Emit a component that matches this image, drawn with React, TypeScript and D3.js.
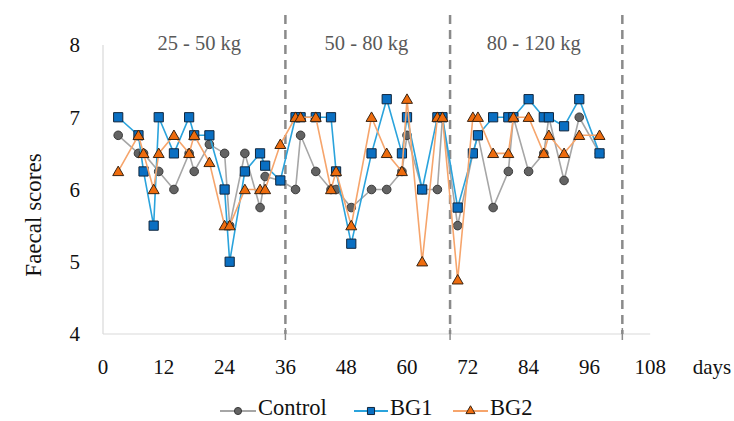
import React from "react";
import * as d3 from "d3";

const days = [3,7,8,10,11,14,17,18,21,24,25,28,31,32,35,38,39,42,45,46,49,53,56,59,60,63,66,67,70,73,74,77,80,81,84,87,88,91,94,98];
const control: (number | null)[] = [6.75,6.5,6.5,null,6.25,6.0,6.5,6.25,6.625,6.5,5.5,6.5,5.75,6.18,6.125,6.0,6.75,6.25,6.0,6.0,5.75,6.0,6.0,6.25,6.75,6.0,6.0,7.0,5.5,6.5,6.75,5.75,6.25,7.0,6.25,6.5,7.0,6.125,7.0,6.5];
const bg1: (number | null)[] = [7,6.75,6.25,5.5,7,6.5,7,6.75,6.75,6.0,5.0,6.25,6.5,6.33,6.125,7,7,7,7,6.25,5.25,6.5,7.25,6.5,7,6.0,7,7,5.75,6.5,6.75,7,7,7,7.25,7,7,6.875,7.25,6.5];
const bg2: (number | null)[] = [6.25,6.75,6.5,6.0,6.5,6.75,6.5,6.75,6.375,5.5,5.5,6.0,6.0,6.0,6.625,7,7,7,6.0,6.25,5.5,7,6.5,6.25,7.25,5.0,7,7,4.75,7,7,6.5,6.5,7,7,6.5,6.75,6.5,6.75,6.75];

const xTicks = [0,12,24,36,48,60,72,84,96,108];
const yTicks = [4,5,6,7,8];
const phaseBounds = [36, 68.5, 102.5];
const phaseLabels = ["25 - 50 kg", "50 - 80 kg", "80 - 120 kg"];
const phaseCenters = [19, 52, 85];
const seriesNames = ["Control", "BG1", "BG2"];

const FONT = "'Liberation Serif', 'Times New Roman', serif";

export default function App() {
  const x = d3.scaleLinear().domain([0, 108]).range([103, 650.2]);
  const y = d3.scaleLinear().domain([4, 8]).range([334, 45]);

  const styles = [
    { line: "#a6a6a6", fill: "#636363", stroke: "#3a3a3a", shape: d3.symbolCircle, size: 58, lsize: 40 },
    { line: "#2aa3dc", fill: "#0a6fc2", stroke: "#10263d", shape: d3.symbolSquare, size: 85, lsize: 50 },
    { line: "#f6a56c", fill: "#ee6c0e", stroke: "#3a2412", shape: d3.symbolTriangle, size: 52, lsize: 36 },
  ];
  const all = [control, bg1, bg2];

  const lineGen = d3.line<[number, number]>().x((d) => x(d[0])).y((d) => y(d[1]));

  const series = all.map((vals) =>
    days.map((d, i) => [d, vals[i]] as [number, number | null]).filter((p) => p[1] !== null) as [number, number][]
  );

  const legendItems = [
    { lx1: 220, lx2: 256, tx: 258 },
    { lx1: 354, lx2: 388, tx: 390 },
    { lx1: 453, lx2: 488, tx: 490 },
  ];
  const legY = 411;
  const xLabY = 374;

  return (
    <svg width={734} height={421} style={{ position: "absolute", left: 0, top: 0, background: "#fff" }} fontFamily={FONT}>
      <line x1={x(0)} x2={x(0)} y1={y(8)} y2={y(4)} stroke="#d9d9d9" strokeWidth={1.2} />
      <line x1={x(0)} x2={x(108)} y1={y(4)} y2={y(4)} stroke="#d9d9d9" strokeWidth={1.2} />
      {phaseBounds.map((b, i) => (
        <g key={"pb" + i}>
          <line x1={x(b)} x2={x(b)} y1={15} y2={y(4)} stroke="#8a8a8a" strokeWidth={2.5} strokeDasharray="9,6" />
          <line x1={x(b)} x2={x(b)} y1={y(4) - 6} y2={y(4) + 6} stroke="#8a8a8a" strokeWidth={1.5} />
        </g>
      ))}
      {yTicks.map((t) => (
        <text key={"y" + t} x={80} y={y(t)} dy="0.35em" textAnchor="end" fontSize={21} fill="#111">
          {t}
        </text>
      ))}
      {xTicks.map((t) => (
        <text key={"x" + t} x={x(t)} y={xLabY} textAnchor="middle" fontSize={21} fill="#111">
          {t}
        </text>
      ))}
      <text x={712} y={xLabY} textAnchor="middle" fontSize={21} fill="#111">days</text>
      <text transform={`translate(33,215) rotate(-90)`} textAnchor="middle" dy="0.35em" fontSize={23} fill="#111">
        Faecal scores
      </text>
      {phaseLabels.map((l, i) => (
        <text key={l} x={x(phaseCenters[i])} y={43} dy="0.35em" textAnchor="middle" fontSize={20.5} fill="#595959">
          {l}
        </text>
      ))}
      {series.map((pts, si) => {
        const st = styles[si];
        const sym = d3.symbol().type(st.shape).size(st.size)();
        return (
          <g key={"s" + si}>
            <path d={lineGen(pts) || ""} fill="none" stroke={st.line} strokeWidth={1.6} />
            {pts.map((p, j) => (
              <path
                key={j}
                d={sym || ""}
                transform={`translate(${x(p[0])},${y(p[1]) + (si === 2 ? 1 : 0)})`}
                fill={st.fill}
                stroke={st.stroke}
                strokeWidth={1}
              />
            ))}
          </g>
        );
      })}
      {legendItems.map((it, i) => {
        const st = styles[i];
        const sym = d3.symbol().type(st.shape).size(st.lsize)();
        return (
          <g key={"lg" + i}>
            <line x1={it.lx1} x2={it.lx2} y1={legY} y2={legY} stroke={st.line} strokeWidth={2} />
            <path d={sym || ""} transform={`translate(${(it.lx1 + it.lx2) / 2},${legY})`} fill={st.fill} stroke={st.stroke} strokeWidth={1} />
            <text x={it.tx} y={415} fontSize={22.5} fill="#111">{seriesNames[i]}</text>
          </g>
        );
      })}
    </svg>
  );
}
